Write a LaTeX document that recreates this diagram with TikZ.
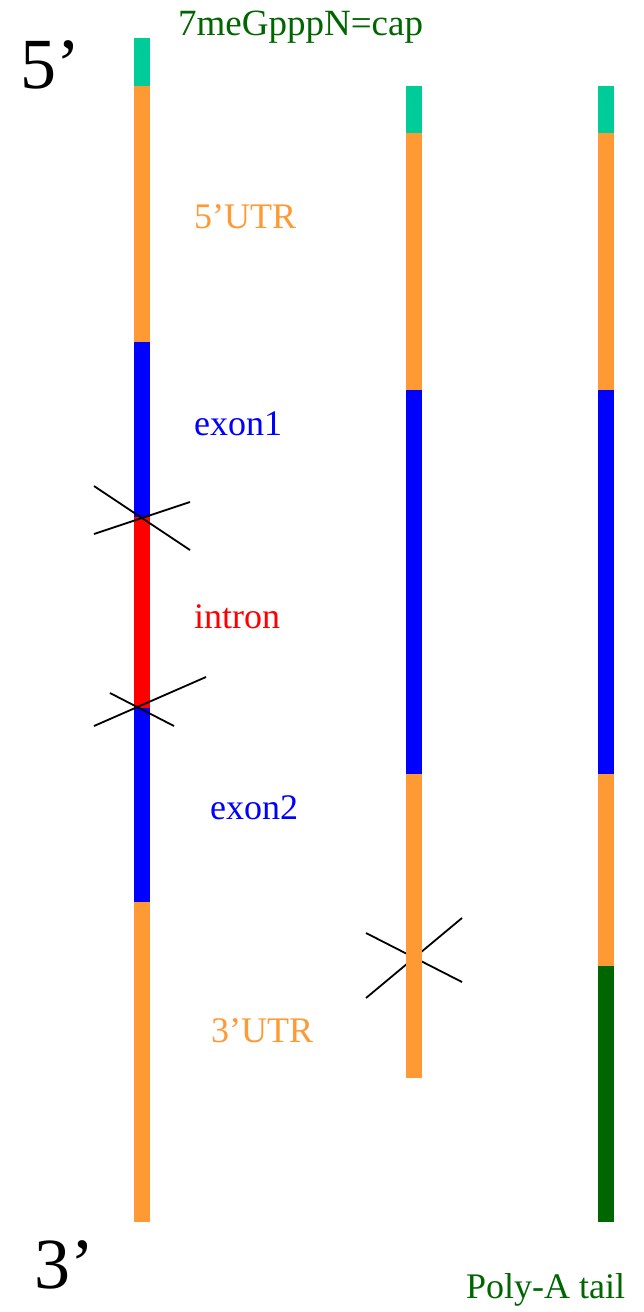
\documentclass[tikz,border=0pt]{standalone}
\usepackage{fontspec}
\setmainfont{Liberation Serif}
\definecolor{capc}{RGB}{0,204,153}
\definecolor{utr}{RGB}{255,153,51}
\definecolor{exc}{RGB}{0,0,255}
\definecolor{inc}{RGB}{255,0,0}
\definecolor{dgreen}{RGB}{0,102,0}
\begin{document}
\begin{tikzpicture}[x=1pt,y=-1pt,
  lbl/.style={anchor=base west,inner sep=0pt,font=\fontsize{36}{40}\selectfont},
  big/.style={anchor=base west,inner sep=0pt,font=\fontsize{72}{80}\selectfont},
  cut/.style={draw=black,line width=1.8pt}]
\useasboundingbox[fill=white] (0,0) rectangle (644,1312);
% cut under the middle bar
\coordinate (c3a) at (366,933); \coordinate (c3b) at (462,982);
\coordinate (c3c) at (366,998); \coordinate (c3d) at (462,918);
\draw[cut] (c3a) -- (c3b); \draw[cut] (c3c) -- (c3d);
% left (pre-mRNA)
\fill[capc] (134,38) rectangle (150,86);
\fill[utr] (134,86) rectangle (150,342);
\fill[exc] (134,342) rectangle (150,517);
\fill[inc] (134,517) rectangle (150,708);
\fill[exc] (134,708) rectangle (150,902);
\fill[utr] (134,902) rectangle (150,1222);
% middle
\fill[capc] (406,86) rectangle (422,133);
\fill[utr] (406,133) rectangle (422,390);
\fill[exc] (406,390) rectangle (422,566);
\fill[exc] (406,566) rectangle (422,774);
\fill[utr] (406,774) rectangle (422,1078);
% right
\fill[capc] (598,86) rectangle (614,133);
\fill[utr] (598,133) rectangle (614,390);
\fill[exc] (598,390) rectangle (614,566);
\fill[exc] (598,566) rectangle (614,774);
\fill[utr] (598,774) rectangle (614,966);
\fill[dgreen] (598,966) rectangle (614,1222);
% cuts on the left bar
\coordinate (c1a) at (94,486); \coordinate (c1b) at (190,550);
\coordinate (c1c) at (94,534); \coordinate (c1d) at (190,502);
\draw[cut] (c1a) -- (c1b); \draw[cut] (c1c) -- (c1d);
\coordinate (c2a) at (110,693); \coordinate (c2b) at (174,726);
\coordinate (c2c) at (94,726); \coordinate (c2d) at (206,677);
\draw[cut] (c2a) -- (c2b); \draw[cut] (c2c) -- (c2d);
% labels
\node[big] (five) at (20,88) {5’};
\node[big] (three) at (34,1288) {3’};
\node[lbl,text=dgreen,font=\fontsize{37}{40}\selectfont] (cap) at (178,35) {7meGpppN=cap};
\node[lbl,text=utr] (u5) at (194,228) {5’UTR};
\node[lbl,text=exc] (e1) at (194,435) {exon1};
\node[lbl,text=inc] (in) at (194,628) {intron};
\node[lbl,text=exc] (e2) at (210,819) {exon2};
\node[lbl,text=utr] (u3) at (211,1042) {3’UTR};
\node[lbl,text=dgreen] (pa) at (466,1298) {Poly-A tail};
\end{tikzpicture}
\end{document}
